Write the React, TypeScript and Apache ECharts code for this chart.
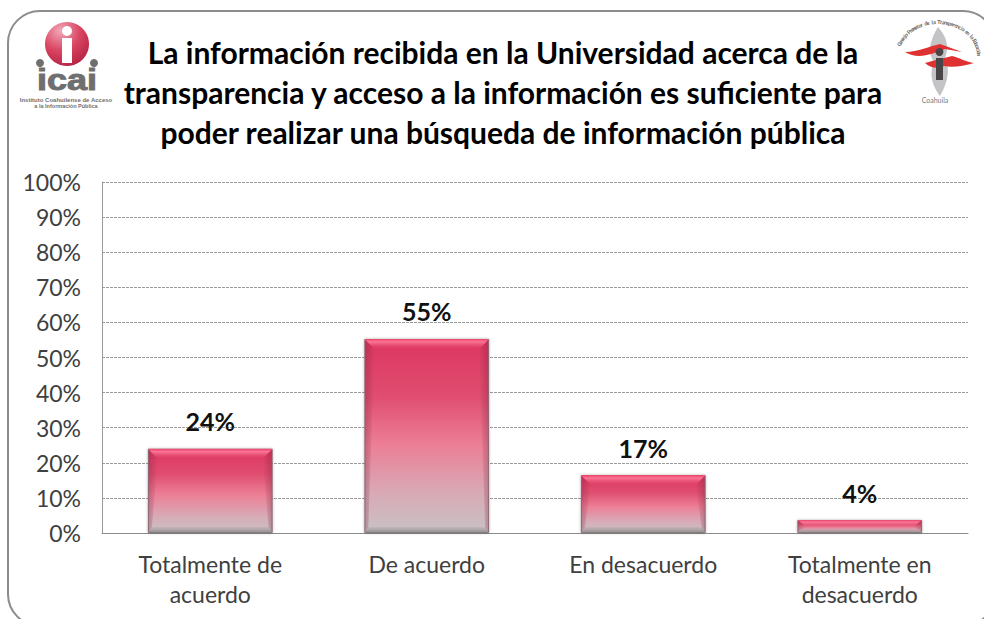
import React, { useEffect, useRef } from "react";
import * as echarts from "echarts";

const titleLines = [
  "La información recibida en la Universidad acerca de la",
  "transparencia y acceso a la información es suficiente para",
  "poder realizar una búsqueda de información pública",
];
const categories = ["Totalmente de\nacuerdo", "De acuerdo", "En desacuerdo", "Totalmente en\ndesacuerdo"];
const values = [24, 55.3, 16.5, 3.7];
const ringText = "Consejo Promotor de la Transparencia en la Educación";

const FONT = "Lato, Carlito, sans-serif";
const BAR_RATIO = 0.576;

echarts.graphic.registerShape(
  "flameGray",
  echarts.graphic.extendPath("M938 27 C930 40 927 52 934 62 C928 76 934 88 940 96 C947 84 951 70 945 58 C950 46 946 36 938 27 Z", {})
);
echarts.graphic.registerShape(
  "flameRedA",
  echarts.graphic.extendPath("M905 52 C918 52 930 46 940 44 L962 52 L945 49 C932 54 918 60 905 52 Z", {})
);
echarts.graphic.registerShape(
  "flameRedB",
  echarts.graphic.extendPath("M925 63 C935 60 945 58 952 56 C960 58 966 62 974 63 C964 66 952 68 944 66 C938 69 930 68 925 63 Z", {})
);

function ringChars() {
  const cx = 938, cy = 56, rx = 41, ry = 34;
  const start = (200 * Math.PI) / 180;
  const end = (358 * Math.PI) / 180;
  return ringText.split("").map((ch, i) => {
    const t = start + ((end - start) * i) / (ringText.length - 1);
    const x = cx + rx * Math.cos(t);
    const y = cy + ry * Math.sin(t);
    const tangent = Math.atan2(ry * Math.cos(t), -rx * Math.sin(t));
    return {
      type: "text",
      x,
      y,
      rotation: -tangent,
      z: 5,
      style: { text: ch, fill: "#666666", font: `bold 5.5px ${FONT}`, align: "center", verticalAlign: "middle" },
    };
  });
}

function logoGraphics() {
  const gray = "#6f6f70";
  return [
    {
      type: "rect",
      shape: { x: 8, y: 11, width: 987, height: 615, r: 32 },
      style: { fill: "#ffffff", stroke: "#8c8c8c", lineWidth: 2 },
      z: -10,
      silent: true,
    },
    {
      type: "circle",
      shape: { cx: 67, cy: 44, r: 22 },
      style: {
        fill: new echarts.graphic.RadialGradient(0.35, 0.2, 0.9, [
          { offset: 0, color: "#f0a8b8" },
          { offset: 0.5, color: "#d94562" },
          { offset: 1, color: "#b01e40" },
        ]),
      },
      z: 3,
    },
    { type: "circle", shape: { cx: 67, cy: 31, r: 5 }, style: { fill: "#fff" }, z: 4 },
    { type: "rect", shape: { x: 62, y: 38, width: 10, height: 25 }, style: { fill: "#fff" }, z: 4 },
    { type: "circle", shape: { cx: 40, cy: 63, r: 4 }, style: { fill: gray }, z: 4 },
    { type: "circle", shape: { cx: 94, cy: 63, r: 4 }, style: { fill: gray }, z: 4 },
    {
      type: "text", x: 67, y: 80, scaleX: 1.2, z: 4,
      style: { text: "icai", fill: gray, stroke: gray, lineWidth: 1, font: `900 30px "Liberation Sans", sans-serif`, align: "center", verticalAlign: "middle" },
    },
    {
      type: "text", x: 66, y: 99.5, z: 4,
      style: { text: "Instituto Coahuilense de Acceso", fill: gray, font: `bold 6px "Liberation Sans", sans-serif`, align: "center", verticalAlign: "middle" },
    },
    {
      type: "text", x: 66, y: 105.5, z: 4,
      style: { text: "a la Información Pública", fill: gray, font: `bold 5.5px "Liberation Sans", sans-serif`, align: "center", verticalAlign: "middle" },
    },
    { type: "flameGray", z: 3, style: { fill: "#c4c4c6" } },
    { type: "flameRedA", z: 4, style: { fill: "#df3032" } },
    { type: "flameRedB", z: 4, style: { fill: "#df3032" } },
    { type: "rect", shape: { x: 936, y: 58, width: 7, height: 22 }, style: { fill: "#4a4648" }, z: 5 },
    { type: "circle", shape: { cx: 939.5, cy: 52, r: 4 }, style: { fill: "#4a4648" }, z: 5 },
    {
      type: "text", x: 935, y: 100, z: 5,
      style: { text: "Coahuila", fill: "#7a7a7a", font: `7px ${FONT}`, align: "center", verticalAlign: "middle" },
    },
    ...ringChars(),
  ];
}

function renderBevel(_params: any, api: any) {
  const idx = api.value(0);
  const top = api.coord([idx, api.value(1)]);
  const base = api.coord([idx, 0]);
  const w = api.size([1, 0])[0] * BAR_RATIO;
  const l = top[0] - w / 2;
  const r = top[0] + w / 2;
  const t = top[1];
  const b = base[1];
  const h = b - t;
  const bev = Math.min(10, h * 0.55);
  const foot = Math.min(6, h * 0.3);
  const side = 4;
  const poly = (points: number[][], fill: any) => ({ type: "polygon", shape: { points }, style: { fill }, silent: true });
  const topFill = new echarts.graphic.LinearGradient(0, 0, 0, 1, [
    { offset: 0, color: "rgba(240,60,100,0.9)" },
    { offset: 0.3, color: "rgba(255,130,160,0.85)" },
    { offset: 1, color: "rgba(224,60,100,0.2)" },
  ]);
  const leftFill = new echarts.graphic.LinearGradient(0, 0, 1, 0, [
    { offset: 0, color: "rgba(110,30,55,0.32)" },
    { offset: 1, color: "rgba(110,30,55,0)" },
  ]);
  const rightFill = new echarts.graphic.LinearGradient(0, 0, 1, 0, [
    { offset: 0, color: "rgba(110,30,55,0)" },
    { offset: 1, color: "rgba(110,30,55,0.32)" },
  ]);
  const footFill = new echarts.graphic.LinearGradient(0, 0, 0, 1, [
    { offset: 0, color: "rgba(130,125,125,0.1)" },
    { offset: 1, color: "rgba(120,115,115,0.7)" },
  ]);
  return {
    type: "group",
    children: [
      poly([[l, t], [l + side + 6, t + bev], [l + side, b - foot], [l, b]], leftFill),
      poly([[r, t], [r - side - 6, t + bev], [r - side, b - foot], [r, b]], rightFill),
      poly([[l, t], [r, t], [r - side - 6, t + bev], [l + side + 6, t + bev]], topFill),
      poly([[l, b], [l + side, b - foot], [r - side, b - foot], [r, b]], footFill),
    ],
  };
}

export default function App() {
  const ref = useRef<HTMLDivElement>(null);
  useEffect(() => {
    document.body.style.margin = "0";
    document.body.style.background = "#ffffff";
    const chart = echarts.init(ref.current!, undefined, { renderer: "svg" });
    chart.setOption({
      animation: false,
      backgroundColor: "#ffffff",
      textStyle: { fontFamily: FONT },
      title: {
        text: titleLines.join("\n"),
        left: 498,
        top: 27,
        textAlign: "center",
        textStyle: { fontFamily: FONT, fontWeight: "bold", fontSize: 30, lineHeight: 40, color: "#000000" },
      },
      grid: { left: 102, right: 16, top: 182, bottom: 86, containLabel: false },
      xAxis: {
        type: "category",
        data: categories,
        axisTick: { show: false },
        axisLine: { lineStyle: { color: "#8c8c8c", width: 1 } },
        axisLabel: { fontFamily: FONT, fontSize: 23, color: "#404040", margin: 16, lineHeight: 30, interval: 0 },
      },
      yAxis: {
        type: "value",
        min: 0,
        max: 100,
        interval: 10,
        axisLine: { show: true, lineStyle: { color: "#9a9a9a", width: 1 } },
        axisTick: { show: false },
        axisLabel: { fontFamily: FONT, fontSize: 23, color: "#404040", margin: 21, formatter: "{value}%" },
        splitLine: { lineStyle: { color: "#9a9a9a", type: [3, 1], width: 1 } },
      },
      graphic: { elements: logoGraphics() },
      series: [
        {
          type: "bar",
          data: values,
          barWidth: `${BAR_RATIO * 100}%`,
          itemStyle: {
            borderColor: "rgba(150,130,135,0.9)",
            borderWidth: 1,
            shadowColor: "rgba(0,0,0,0.3)",
            shadowBlur: 3,
            color: new echarts.graphic.LinearGradient(0, 0, 0, 1, [
              { offset: 0, color: "#dc3560" },
              { offset: 0.3, color: "#e04e70" },
              { offset: 0.55, color: "#ec7f96" },
              { offset: 0.8, color: "#d8aab6" },
              { offset: 1, color: "#c8c2c4" },
            ]),
          },
          label: {
            show: true,
            position: "top",
            distance: 15,
            formatter: (p: any) => `${Math.round(p.value)}%`,
            fontFamily: FONT,
            fontWeight: "bold",
            fontSize: 25,
            color: "#111111",
          },
        },
        {
          type: "custom",
          data: values.map((v, i) => [i, v]),
          renderItem: renderBevel,
          silent: true,
          z: 3,
          encode: { x: 0, y: 1 },
        },
      ],
    });
    return () => chart.dispose();
  }, []);
  return <div ref={ref} style={{ width: 984, height: 619 }} />;
}
